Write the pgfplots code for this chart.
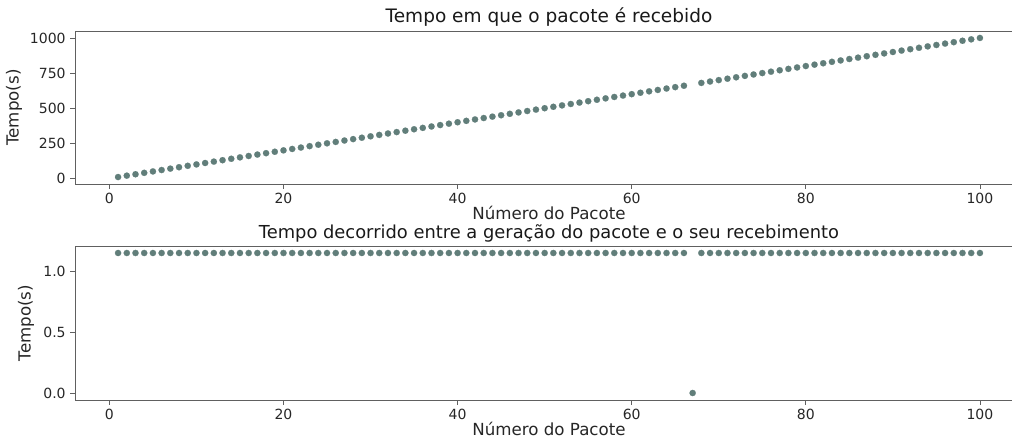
\documentclass[border=0pt]{standalone}
\usepackage{pgfplots}
\pgfplotsset{compat=1.18}
\usepackage{fontspec}
\setmainfont{DejaVu Sans}
\definecolor{mk}{HTML}{617E7A}
\definecolor{sp}{HTML}{606060}
\pgfplotsset{
  myax/.style={
    scale only axis,
    width=711pt,
    xmin=-3.95, xmax=104.95,
    xtick={0,20,40,60,80,100},
    axis line style={sp, line width=0.6pt},
    tick style={sp, line width=0.5pt},
    tick align=outside,
    major tick length=3.5pt,
    xtick pos=bottom, ytick pos=left,
    ticklabel style={font=\fontsize{10.5}{12}\selectfont, text=black!85},
    label style={font=\fontsize{12.5}{14}\selectfont, text=black!85},
    title style={font=\fontsize{13.9}{16}\selectfont, text=black!90, yshift=-6pt},
    /pgf/number format/assume math mode=true,
    /pgf/number format/set thousands separator={},
    xlabel={Número do Pacote},
    ylabel={Tempo(s)},
    xlabel style={yshift=5pt},
    clip=false,
  },
  myplot/.style={only marks, color=mk, mark=*, mark size=2.35pt, mark options={solid, fill=mk, draw=mk, line width=0.1pt}},
}
\begin{document}
\begin{tikzpicture}
\begin{axis}[myax,
  at={(56.25pt,-138pt)}, anchor=south west,
  height=114.75pt,
  ymin=-38.35, ymax=1050.65,
  ytick={0,250,500,750,1000},
  title={Tempo em que o pacote é recebido},
  ylabel style={yshift=-1pt},
]
\addplot[myplot] coordinates {
(1,11.15) (2,21.15) (3,31.15) (4,41.15) (5,51.15) (6,61.15) (7,71.15) (8,81.15) (9,91.15) (10,101.15)
(11,111.15) (12,121.15) (13,131.15) (14,141.15) (15,151.15) (16,161.15) (17,171.15) (18,181.15) (19,191.15) (20,201.15)
(21,211.15) (22,221.15) (23,231.15) (24,241.15) (25,251.15) (26,261.15) (27,271.15) (28,281.15) (29,291.15) (30,301.15)
(31,311.15) (32,321.15) (33,331.15) (34,341.15) (35,351.15) (36,361.15) (37,371.15) (38,381.15) (39,391.15) (40,401.15)
(41,411.15) (42,421.15) (43,431.15) (44,441.15) (45,451.15) (46,461.15) (47,471.15) (48,481.15) (49,491.15) (50,501.15)
(51,511.15) (52,521.15) (53,531.15) (54,541.15) (55,551.15) (56,561.15) (57,571.15) (58,581.15) (59,591.15) (60,601.15)
(61,611.15) (62,621.15) (63,631.15) (64,641.15) (65,651.15) (66,661.15) (68,681.15) (69,691.15) (70,701.15)
(71,711.15) (72,721.15) (73,731.15) (74,741.15) (75,751.15) (76,761.15) (77,771.15) (78,781.15) (79,791.15) (80,801.15)
(81,811.15) (82,821.15) (83,831.15) (84,841.15) (85,851.15) (86,861.15) (87,871.15) (88,881.15) (89,891.15) (90,901.15)
(91,911.15) (92,921.15) (93,931.15) (94,941.15) (95,951.15) (96,961.15) (97,971.15) (98,981.15) (99,991.15) (100,1001.15)
};
\end{axis}
\begin{axis}[myax,
  at={(56.25pt,-300pt)}, anchor=south west,
  height=115.5pt,
  ymin=-0.0575, ymax=1.2075,
  ytick={0,0.5,1.0},
  yticklabel style={/pgf/number format/.cd, fixed, fixed zerofill, precision=1},
  title={Tempo decorrido entre a geração do pacote e o seu recebimento},
  title style={font=\fontsize{13.4}{15}\selectfont, yshift=-1pt},
]
\addplot[myplot] coordinates {
(1,1.15) (2,1.15) (3,1.15) (4,1.15) (5,1.15) (6,1.15) (7,1.15) (8,1.15) (9,1.15) (10,1.15)
(11,1.15) (12,1.15) (13,1.15) (14,1.15) (15,1.15) (16,1.15) (17,1.15) (18,1.15) (19,1.15) (20,1.15)
(21,1.15) (22,1.15) (23,1.15) (24,1.15) (25,1.15) (26,1.15) (27,1.15) (28,1.15) (29,1.15) (30,1.15)
(31,1.15) (32,1.15) (33,1.15) (34,1.15) (35,1.15) (36,1.15) (37,1.15) (38,1.15) (39,1.15) (40,1.15)
(41,1.15) (42,1.15) (43,1.15) (44,1.15) (45,1.15) (46,1.15) (47,1.15) (48,1.15) (49,1.15) (50,1.15)
(51,1.15) (52,1.15) (53,1.15) (54,1.15) (55,1.15) (56,1.15) (57,1.15) (58,1.15) (59,1.15) (60,1.15)
(61,1.15) (62,1.15) (63,1.15) (64,1.15) (65,1.15) (66,1.15) (67,0) (68,1.15) (69,1.15) (70,1.15)
(71,1.15) (72,1.15) (73,1.15) (74,1.15) (75,1.15) (76,1.15) (77,1.15) (78,1.15) (79,1.15) (80,1.15)
(81,1.15) (82,1.15) (83,1.15) (84,1.15) (85,1.15) (86,1.15) (87,1.15) (88,1.15) (89,1.15) (90,1.15)
(91,1.15) (92,1.15) (93,1.15) (94,1.15) (95,1.15) (96,1.15) (97,1.15) (98,1.15) (99,1.15) (100,1.15)
};
\end{axis}
\pgfresetboundingbox
\path[use as bounding box] (0pt,0pt) rectangle (759pt,-332.25pt);
\end{tikzpicture}
\end{document}
